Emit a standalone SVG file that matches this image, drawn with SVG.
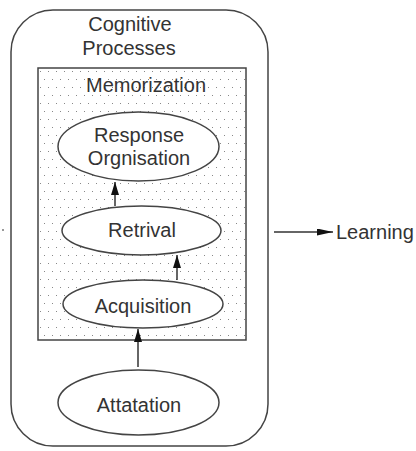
<svg xmlns="http://www.w3.org/2000/svg" width="416" height="451" viewBox="0 0 416 451">
<style>
text{font-family:"Liberation Sans",Arial,sans-serif;font-size:20px;fill:#333;text-anchor:middle}
.shape{fill:#fff;stroke:#444;stroke-width:1.5}
.edge{stroke:#333;stroke-width:1.5;fill:none;marker-end:url(#arr)}
</style>
<defs>
<pattern id="dots" x="38" y="68" width="8" height="16" patternUnits="userSpaceOnUse">
<rect x="2" y="3" width="1" height="1" fill="#888"/>
<rect x="6" y="11" width="1" height="1" fill="#888"/>
</pattern>
<marker id="arr" viewBox="0 0 10 10" refX="10" refY="5" markerWidth="13" markerHeight="8" orient="auto" markerUnits="userSpaceOnUse" preserveAspectRatio="none">
<path d="M0,0 L10,5 L0,10 Z" fill="#111"/>
</marker>
<marker id="arrh" viewBox="0 0 10 10" refX="10" refY="5" markerWidth="16" markerHeight="7" orient="auto" markerUnits="userSpaceOnUse" preserveAspectRatio="none">
<path d="M0,0 L10,5 L0,10 Z" fill="#111"/>
</marker>
</defs>
<g id="cognitive-processes">
<rect class="shape" x="11" y="10" width="257" height="436" rx="42" ry="42"/>
<text x="130" y="31">Cognitive</text>
<text x="129" y="55">Processes</text>
</g>
<g id="memorization">
<rect x="38" y="68" width="208" height="272" fill="#fff"/>
<rect x="38" y="68" width="208" height="272" fill="url(#dots)" stroke="#444" stroke-width="1.5"/>
<text x="146" y="92">Memorization</text>
</g>
<g id="response-orgnisation">
<ellipse class="shape" cx="138.5" cy="146.5" rx="80.5" ry="34.5"/>
<text x="139" y="142">Response</text>
<text x="139" y="165">Orgnisation</text>
</g>
<g id="retrival">
<ellipse class="shape" cx="141.5" cy="230.5" rx="79.5" ry="24.5"/>
<text x="142" y="237">Retrival</text>
</g>
<g id="acquisition">
<ellipse class="shape" cx="143" cy="304" rx="80" ry="24"/>
<text x="143" y="313">Acquisition</text>
</g>
<g id="attatation">
<ellipse class="shape" cx="138.5" cy="402.5" rx="80.5" ry="32.5"/>
<text x="139" y="412">Attatation</text>
</g>
<g id="learning">
<text x="336" y="239" style="text-anchor:start">Learning</text>
</g>
<g id="connectors">
<line class="edge" x1="115" y1="206" x2="115" y2="182"/>
<line class="edge" x1="177" y1="280" x2="177" y2="255"/>
<line class="edge" x1="138" y1="367" x2="138" y2="329"/>
<line x1="274" y1="232" x2="333" y2="232" stroke="#333" stroke-width="1.5" marker-end="url(#arrh)"/>
</g>
<rect x="2" y="229" width="2" height="2" fill="#999"/>
</svg>
